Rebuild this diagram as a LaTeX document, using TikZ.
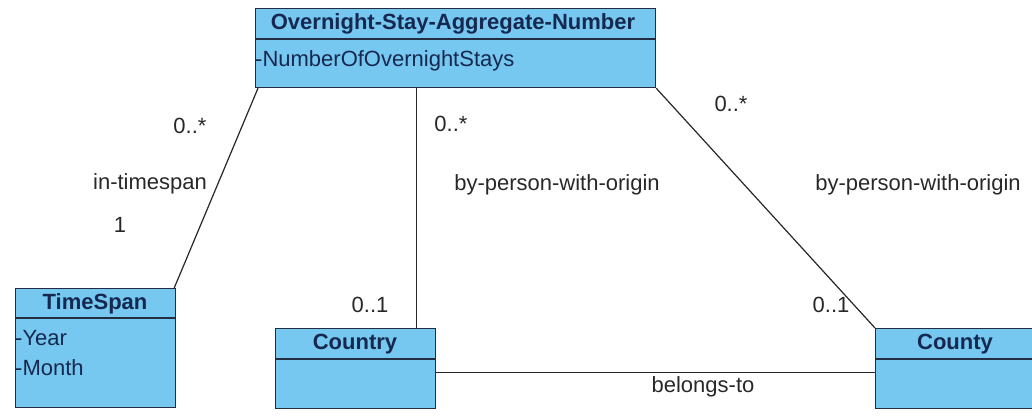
\documentclass[tikz,border=0pt]{standalone}
\usepackage{fontspec}
\setmainfont{Liberation Sans}
\usetikzlibrary{calc}
\definecolor{clsfill}{RGB}{118,200,240}
\definecolor{clstext}{RGB}{22,40,80}
\definecolor{clsline}{RGB}{35,45,65}
\definecolor{lbltext}{RGB}{40,40,40}
\tikzset{
  cls/.style={draw=clsline, fill=clsfill, line width=1.2pt, anchor=north west, inner sep=0pt},
  ctitle/.style={text=clstext, font=\fontsize{22}{26}\selectfont\bfseries, inner sep=0pt},
  cattr/.style={text=clstext, font=\fontsize{22}{26}\selectfont, anchor=west, inner sep=0pt},
  lbl/.style={text=lbltext, font=\fontsize{22}{26}\selectfont, inner sep=0pt},
  conn/.style={draw=black!85, line width=1.2pt},
}
\begin{document}
\begin{tikzpicture}[x=1pt,y=-1pt]
\useasboundingbox (0,0) rectangle (1032,418);
% classes
\node[cls, minimum width=400pt, minimum height=79pt] (agg) at (255,8) {};
\draw[clsline, line width=1.2pt] (255,39) -- (655,39);
\node[ctitle] (aggt) at (453,24) {Overnight-Stay-Aggregate-Number};
\node[cattr] (agga) at (255,61) {-NumberOfOvernightStays};

\node[cls, minimum width=160pt, minimum height=119pt] (ts) at (15,288) {};
\draw[clsline, line width=1.2pt] (15,318) -- (175,318);
\node[ctitle] (tst) at (95,304) {TimeSpan};
\node[cattr] (tsa) at (15,338) {-Year};
\node[cattr] (tsb) at (15,368) {-Month};

\node[cls, minimum width=160pt, minimum height=80pt] (country) at (275,328) {};
\draw[clsline, line width=1.2pt] (275,359) -- (435,359);
\node[ctitle] (countryt) at (355,344) {Country};

\node[cls, minimum width=160pt, minimum height=80pt] (county) at (875,328) {};
\draw[clsline, line width=1.2pt] (875,359) -- (1035,359);
\node[ctitle] (countyt) at (955,344) {County};

% connectors
\coordinate (a1) at ($(agg.south west)+(3,0)$);
\coordinate (t1) at ($(ts.north east)+(-2,0)$);
\draw[conn] (a1) -- (t1);
\coordinate (c1) at ($(country.north east)+(-20,0)$);
\draw[conn] (c1) -- (c1 |- agg.south);
\draw[conn] (agg.south east) -- (county.north west);
\coordinate (h1) at ($(country.east)+(0,4)$);
\draw[conn] (h1) -- (h1 -| county.west);

% labels
\node[lbl] (m1) at (190,126) {0..*};
\node[lbl] (r1) at (150,184) {in-timespan};
\node[lbl] (m2) at (120,225) {1};
\node[lbl] (m3) at (451,124) {0..*};
\node[lbl] (r2) at (557,185) {by-person-with-origin};
\node[lbl] (m4) at (731,104) {0..*};
\node[lbl] (r3) at (918,185) {by-person-with-origin};
\node[lbl] (m5) at (370,305) {0..1};
\node[lbl] (m6) at (831,305) {0..1};
\node[lbl] (r4) at (703,387) {belongs-to};
\end{tikzpicture}
\end{document}
